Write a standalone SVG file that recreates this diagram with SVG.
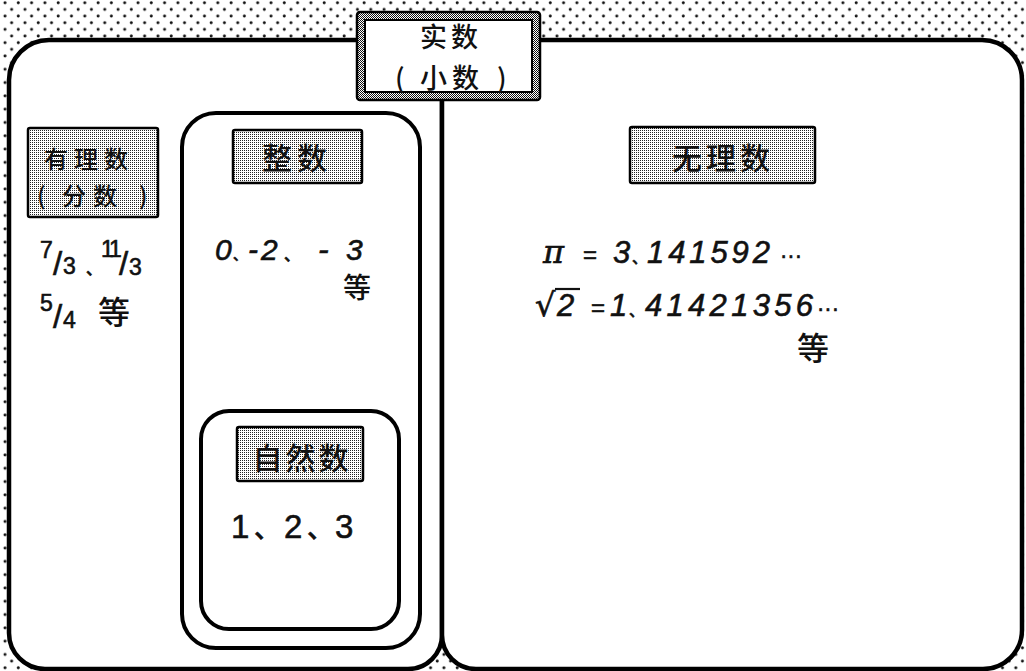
<svg xmlns="http://www.w3.org/2000/svg" width="1026" height="671" viewBox="0 0 1026 671">
<defs>
<pattern id="dots" width="13.3" height="13.3" patternUnits="userSpaceOnUse">
<rect width="13.3" height="13.3" fill="#fff"/>
<circle cx="5" cy="2.7" r="1.5" fill="#111"/>
<circle cx="11.65" cy="9.35" r="1.5" fill="#111"/>
</pattern>
<pattern id="stip" width="2" height="2" patternUnits="userSpaceOnUse">
<rect width="2" height="2" fill="#fff"/>
<rect width="1" height="1" fill="#222"/>
</pattern>
<pattern id="band" width="2" height="2" patternUnits="userSpaceOnUse">
<rect width="2" height="2" fill="#fff"/>
<rect width="1" height="1" fill="#111"/>
<rect x="1" y="1" width="1" height="1" fill="#111"/>
</pattern>
<style>
.frame{fill:#fff;stroke:#000;stroke-width:4.5;stroke-linejoin:round}
.box{fill:none;stroke:#000;stroke-width:4}
.lab{fill:url(#stip);stroke:#000;stroke-width:2.5}
.cjk{font-family:"Noto Sans CJK SC","Noto Sans",sans-serif;fill:#111;font-weight:500}
.num{font-family:"Liberation Sans","Noto Sans CJK SC",sans-serif;fill:#111;stroke:#111;stroke-width:0.6}
.it{font-style:italic}
</style>
</defs>
<rect width="1026" height="671" fill="url(#dots)"/>
<g id="frame">
<path class="frame" d="M442,40 L49,40 A40,40 0 0 0 9,80 L9,633 A36,36 0 0 0 45,669 L408,669 A34,34 0 0 0 442,635 Z"/>
<path class="frame" d="M442,40 L982,40 A40,40 0 0 1 1022,80 L1022,630 A39,39 0 0 1 983,669 L476,669 A34,34 0 0 1 442,635 Z"/>
</g>
<g id="connectors"></g>
<g id="real">
<rect x="357" y="12" width="183" height="88" rx="3" fill="url(#band)" stroke="#000" stroke-width="2.5"/>
<rect x="365" y="20" width="167" height="72" fill="#fff" stroke="#000" stroke-width="2"/>
<text class="cjk" font-size="27"><tspan x="420" y="47" letter-spacing="4">实数</tspan><tspan x="395" y="88">(</tspan><tspan x="420" y="88" letter-spacing="5">小数</tspan><tspan x="497" y="88">)</tspan></text>
</g>
<g id="rational">
<rect class="lab" x="28" y="128" width="130" height="89" rx="2"/>
<text class="cjk" font-size="24"><tspan x="44" y="168" letter-spacing="6">有理数</tspan><tspan x="37" y="205">(</tspan><tspan x="62" y="205" letter-spacing="7">分数</tspan><tspan x="139" y="205">)</tspan></text>
<text class="num" font-size="23">
<tspan x="40" y="258">7</tspan><tspan x="53" y="275" font-size="33">/</tspan><tspan x="63" y="274">3</tspan><tspan x="86" y="274" class="cjk" font-size="16">、</tspan><tspan x="101" y="257" letter-spacing="-3">11</tspan><tspan x="119" y="275" font-size="33">/</tspan><tspan x="129" y="275">3</tspan>
</text>
<text class="num" font-size="23">
<tspan x="40" y="311">5</tspan><tspan x="53" y="328" font-size="33">/</tspan><tspan x="63" y="328">4</tspan>
</text>
<text class="cjk" x="98" y="324" font-size="32">等</text>
</g>
<g id="integer">
<rect class="box" x="182" y="113" width="238" height="535" rx="34"/>
<rect class="lab" x="233" y="130" width="129" height="53" rx="2"/>
<text class="cjk" x="297" y="169" font-size="30" text-anchor="middle" letter-spacing="5">整数</text>
<text class="num it" font-size="30" y="260">
<tspan x="215">0</tspan><tspan x="233" class="cjk" font-size="14" font-style="normal">、</tspan><tspan x="248">-</tspan><tspan x="261">2</tspan><tspan x="284" class="cjk" font-size="16" font-style="normal">、</tspan><tspan x="318" font-size="32">-</tspan><tspan x="346">3</tspan>
</text>
<text class="cjk" x="343" y="298" font-size="28">等</text>
</g>
<g id="natural">
<rect class="box" x="201" y="411" width="198" height="218" rx="28"/>
<rect class="lab" x="237" y="427" width="126" height="54" rx="2"/>
<text class="cjk" x="302" y="469" font-size="30" text-anchor="middle" letter-spacing="3">自然数</text>
<text class="num" font-size="33" y="538">
<tspan x="231">1</tspan><tspan x="254" class="cjk" font-size="26">、</tspan><tspan x="284">2</tspan><tspan x="307" class="cjk" font-size="26">、</tspan><tspan x="335">3</tspan>
</text>
</g>
<g id="irrational">
<rect class="lab" x="630" y="127" width="185" height="56" rx="2"/>
<text class="cjk" x="723" y="169" font-size="30" text-anchor="middle" letter-spacing="4">无理数</text>
<text class="num it" font-size="31" y="263">
<tspan x="543" font-family="DejaVu Serif" font-size="32">π</tspan><tspan x="583" font-style="normal" font-size="24">=</tspan><tspan x="613">3</tspan><tspan x="632" class="cjk" font-size="15" font-style="normal">、</tspan><tspan x="647" textLength="123" lengthAdjust="spacing">141592</tspan><tspan x="780" font-style="normal" font-size="22">···</tspan>
</text>
<text class="num it" font-size="31" y="316">
<tspan x="535" font-style="normal" font-size="32" font-family="DejaVu Sans">√</tspan><tspan x="557">2</tspan><tspan x="591" font-style="normal" font-size="24">=</tspan><tspan x="610">1</tspan><tspan x="629" class="cjk" font-size="15" font-style="normal">、</tspan><tspan x="645" textLength="168" lengthAdjust="spacing">41421356</tspan><tspan x="817" font-style="normal" font-size="22">···</tspan>
</text>
<line x1="555" y1="289" x2="580" y2="289" stroke="#111" stroke-width="2.2"/>
<text class="cjk" x="797" y="360" font-size="32">等</text>
</g>
</svg>
